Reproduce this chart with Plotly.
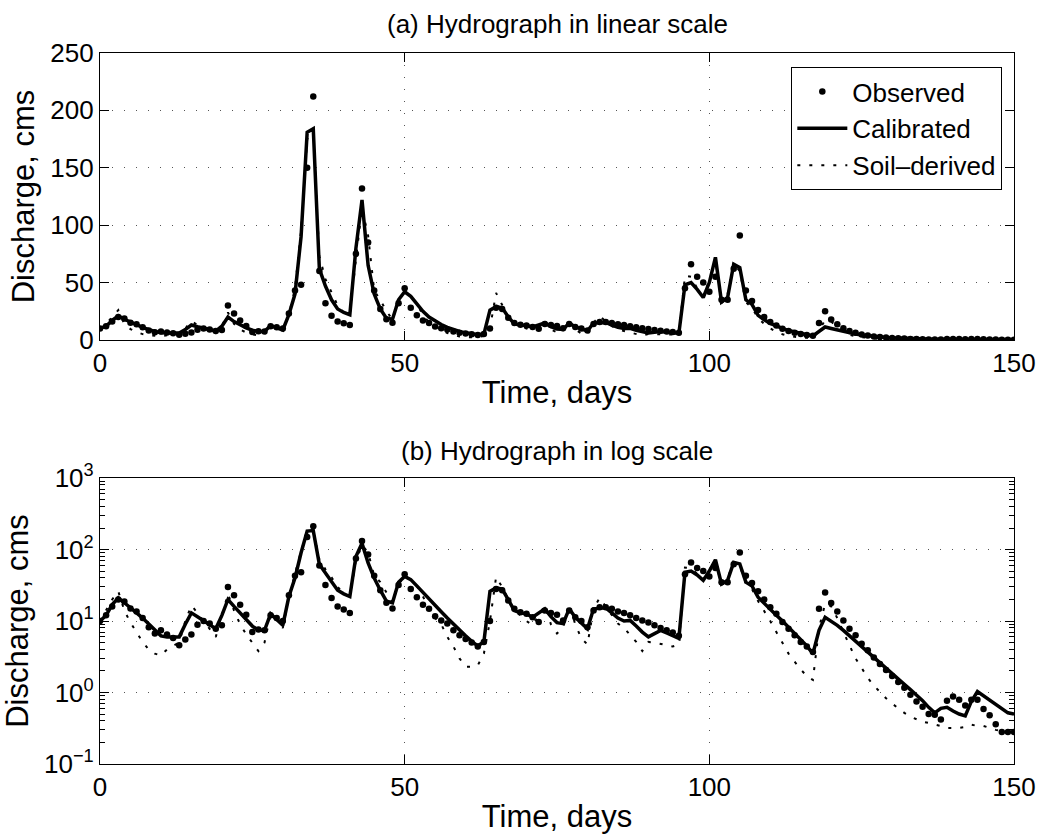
import plotly.graph_objects as go

days = list(range(151))

observed = [
    10, 12, 16, 20, 18.7, 15, 13.6, 11, 8.2, 6.7,
    7.4, 6.5, 5.8, 4.6, 5.5, 6.5, 8.9, 10, 9.2, 7.8,
    8.7, 30, 23, 16.9, 12.2, 7.0, 7.6, 7.4, 12, 11,
    10, 23, 43, 48, 150, 212, 60, 32, 21, 16,
    14.5, 13, 75, 132, 85, 43, 27, 18, 15, 32,
    45, 28, 21.5, 16.9, 14.8, 11.7, 10.2, 9.2, 7.4, 6.3,
    5.6, 5.0, 4.4, 5.1, 10, 28, 27, 19.4, 14.8, 13.3,
    12.6, 11.3, 9.7, 14, 13, 12.2, 10.2, 14, 11.3, 10,
    8.2, 14, 15.6, 15.6, 14.8, 13.6, 13, 12, 11, 10.2,
    9.5, 8.7, 8.0, 7.4, 6.9, 6.2, 45, 66, 55, 50,
    42, 55, 35, 35, 62, 91, 43, 34, 26, 20,
    15.6, 12.6, 9.7, 7.8, 6.3, 5.1, 4.4, 3.7, 14.8, 25,
    17.8, 13.6, 10.2, 7.8, 6.3, 4.8, 3.9, 3.1, 2.5, 2.06,
    1.7, 1.4, 1.17, 0.93, 0.75, 0.63, 0.5, 0.49, 0.42, 0.77,
    0.88, 0.79, 0.66, 0.79, 0.79, 0.59, 0.48, 0.36, 0.28, 0.28,
    0.28,
]

calibrated = [
    10, 12, 17, 21, 18, 15.5, 13, 11, 9, 7.5,
    6.2, 6.0, 6.0, 6.0, 9, 13, 11.5, 10, 9, 7.8,
    12, 20, 16, 13, 10.5, 8.5, 7.4, 7.4, 12.6, 10.5,
    8.7, 22, 40, 90, 181, 184, 62, 47, 35, 27,
    24, 22, 80, 122, 65, 40, 27, 19, 18, 35,
    42, 38, 31, 25, 20, 16.5, 13.5, 11, 9, 7.5,
    6.2, 5.2, 4.5, 5.1, 26, 29, 28, 20, 14, 13,
    12.6, 11.3, 13, 14.8, 11.5, 9.5, 9.2, 14.8, 11.3, 9.5,
    7.8, 14.8, 15, 15.3, 13, 11, 10, 10.2, 8.5, 7,
    6.0, 6.6, 7.4, 6.8, 6.2, 5.7, 48, 50, 44, 37,
    50, 72, 33, 37, 66, 63, 35, 31, 21.5, 17.5,
    14.5, 12, 10, 8.2, 6.8, 5.6, 4.5, 3.5, 7.4, 11.3,
    10, 8.7, 7.4, 6.2, 5.2, 4.4, 3.7, 3.1, 2.6, 2.2,
    1.85, 1.55, 1.3, 1.1, 0.92, 0.77, 0.62, 0.52, 0.6, 0.62,
    0.55, 0.5, 0.47, 0.75, 1.03, 0.9, 0.8, 0.7, 0.6, 0.52,
    0.5,
]

soil_derived = [
    10, 14, 20, 26, 14, 9.5, 7, 5.1, 4, 3.5,
    3.3, 4, 4.5, 5, 10, 16.5, 13, 10, 7.5, 6,
    12, 24, 14, 9, 6.5, 5, 3.8, 5, 12.6, 10,
    8, 22, 45, 95, 175, 180, 73, 53, 41, 30,
    24, 22, 70, 115, 91, 43, 35, 25, 18, 33,
    42, 38, 31, 22, 15, 11, 9, 6, 4.4, 3.0,
    2.3, 2.3, 2.4, 3.5, 10, 41, 30, 20, 14, 12,
    10, 8.7, 12, 16.5, 9, 6.7, 8, 16.5, 9, 5.7,
    4.7, 15, 21, 16, 12, 9.2, 8, 6.5, 5.1, 3.8,
    5.1, 5, 4.8, 4.5, 4.4, 4.7, 56, 55, 45, 38,
    52, 70, 32, 40, 66, 60, 33, 28, 19, 14,
    10, 7, 5, 3.5, 2.7, 2.1, 1.7, 1.5, 8, 17.4,
    16, 11, 7, 4.5, 3.0, 2.2, 1.6, 1.25, 1.0, 0.83,
    0.7, 0.6, 0.52, 0.46, 0.42, 0.39, 0.375, 0.36, 0.34, 0.32,
    0.32, 0.32, 0.33, 0.356, 0.34, 0.34, 0.32, 0.3, 0.29, 0.28,
    0.27,
]

x_ticks = [0, 50, 100, 150]
lin_ticks = [0, 50, 100, 150, 200, 250]
log_ticks = [0.1, 1, 10, 100, 1000]
log_tick_text = ["10<sup>−1</sup>", "10<sup>0</sup>", "10<sup>1</sup>", "10<sup>2</sup>", "10<sup>3</sup>"]
log_minor_ticks = [m * d for d in [0.1, 1, 10, 100] for m in range(2, 10)]

FONT = "Liberation Sans, Arial, Helvetica, sans-serif"
FS = 26

fig = go.Figure()

# panel (a): linear
fig.add_trace(go.Scatter(x=days, y=observed, mode="markers", name="Observed",
                         marker=dict(color="black", size=6.5), xaxis="x", yaxis="y"))
fig.add_trace(go.Scatter(x=days, y=calibrated, mode="lines", name="Calibrated",
                         line=dict(color="black", width=3.5), xaxis="x", yaxis="y"))
fig.add_trace(go.Scatter(x=days, y=soil_derived, mode="lines", name="Soil–derived",
                         line=dict(color="black", width=2, dash="3px,9px"),
                         xaxis="x", yaxis="y"))

# panel (b): log (y3 overlays y2 with the same range and carries the minor ticks)
fig.add_trace(go.Scatter(x=days, y=observed, mode="markers", name="Observed",
                         marker=dict(color="black", size=6.5), xaxis="x2", yaxis="y2",
                         showlegend=False))
fig.add_trace(go.Scatter(x=days, y=calibrated, mode="lines", name="Calibrated",
                         line=dict(color="black", width=3.5), xaxis="x2", yaxis="y2",
                         showlegend=False))
fig.add_trace(go.Scatter(x=days, y=soil_derived, mode="lines", name="Soil–derived",
                         line=dict(color="black", width=2, dash="3px,9px"),
                         xaxis="x2", yaxis="y3", showlegend=False))

axis_common = dict(
    showline=True, linecolor="black", linewidth=1.2, mirror="ticks",
    ticks="inside", ticklen=9, tickcolor="black", tickwidth=1.3,
    showgrid=True, gridcolor="#555", gridwidth=1, griddash="1px,11px",
    zeroline=False, tickfont=dict(size=FS, color="black", family=FONT),
)

fig.update_layout(
    width=1048, height=840,
    margin=dict(l=100, r=24, t=53, b=71),
    paper_bgcolor="white", plot_bgcolor="white",
    font=dict(family=FONT, size=FS, color="black"),
    xaxis=dict(domain=[0, 1], range=[0, 150], tickvals=x_ticks, anchor="y",
               title=dict(text="Time, days", standoff=4), **axis_common),
    yaxis=dict(domain=[0.5964, 1], range=[0, 250], tickvals=lin_ticks, anchor="x",
               title=dict(text="Discharge, cms", standoff=6), **axis_common),
    xaxis2=dict(domain=[0, 1], range=[0, 150], tickvals=x_ticks, anchor="y2",
                title=dict(text="Time, days", standoff=4), **axis_common),
    yaxis2=dict(domain=[0, 0.4022], type="log", range=[-1, 3], anchor="x2",
                tickvals=log_ticks, ticktext=log_tick_text,
                title=dict(text="Discharge, cms", standoff=6), **axis_common),
    yaxis3=dict(overlaying="y2", anchor="x2", side="left", type="log", range=[-1, 3],
                tickmode="array", tickvals=log_minor_ticks, showticklabels=False,
                ticks="inside", ticklen=5, tickcolor="black", tickwidth=1.3,
                showline=True, linecolor="black", linewidth=1.2, mirror="ticks",
                showgrid=False, zeroline=False),
    legend=dict(x=0.987, y=0.9804, xanchor="right", yanchor="top",
                bgcolor="white", bordercolor="black", borderwidth=1.2,
                font=dict(size=FS, family=FONT), itemwidth=50,
                tracegroupgap=0),
    annotations=[
        dict(text="(a) Hydrograph in linear scale", xref="paper", yref="paper",
             x=0.5, y=1.0, yshift=12, xanchor="center", yanchor="bottom",
             showarrow=False, font=dict(size=FS, family=FONT)),
        dict(text="(b) Hydrograph in log scale", xref="paper", yref="paper",
             x=0.5, y=0.4022, yshift=10, xanchor="center", yanchor="bottom",
             showarrow=False, font=dict(size=FS, family=FONT)),
    ],
)

fig.write_html("out.html")
